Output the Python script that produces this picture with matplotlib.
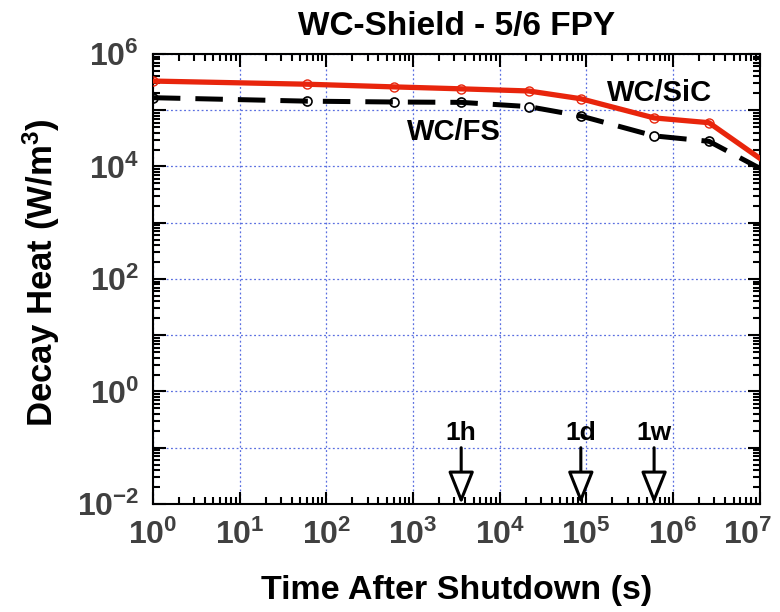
import math
import matplotlib
matplotlib.use("Agg")
import matplotlib.pyplot as plt
from matplotlib.ticker import LogLocator, NullFormatter
from matplotlib.transforms import ScaledTranslation

FONT = 'Liberation Sans'
plt.rcParams['font.family'] = [FONT, 'DejaVu Sans']
plt.rcParams['font.weight'] = 'bold'
plt.rcParams['mathtext.fontset'] = 'custom'
plt.rcParams['mathtext.rm'] = FONT + ':bold'
plt.rcParams['mathtext.bf'] = FONT + ':bold'
plt.rcParams['mathtext.it'] = FONT + ':bold'
plt.rcParams['mathtext.default'] = 'bf'

# time after shutdown (s)
t = [1, 60, 600, 3600, 21600, 86400, 604800, 2.6e6, 1e7]
# decay heat (W/m^3)
wc_sic = [3.3e5, 2.9e5, 2.6e5, 2.4e5, 2.2e5, 1.6e5, 7.3e4, 6.0e4, 1.4e4]
wc_fs = [1.67e5, 1.45e5, 1.4e5, 1.38e5, 1.16e5, 7.9e4, 3.5e4, 2.8e4, 9.3e3]

xticks = [1, 1e1, 1e2, 1e3, 1e4, 1e5, 1e6, 1e7]
yticks = [1e-2, 1e-1, 1, 1e1, 1e2, 1e3, 1e4, 1e5, 1e6]

marks = ["1h", "1d", "1w"]
mark_t = [3600, 86400, 604800]

fig = plt.figure(figsize=(7.8, 6.12), dpi=100)
ax = fig.add_axes([0.196, 0.1765, 0.778, 0.7353])

ax.plot(t, wc_fs, color='black', lw=3.6, dashes=(5.5, 3), zorder=3)
ax.plot(t[:-1], wc_fs[:-1], 'o', mfc='none', mec='black', ms=6.5, mew=1.2, zorder=4)
ax.plot(t, wc_sic, color='#E8250C', lw=3.8, zorder=5)
ax.plot(t[:-1], wc_sic[:-1], 'o', mfc='none', mec='#E8250C', ms=6.5, mew=1.0, zorder=6)

ax.set_xscale('log')
ax.set_yscale('log')
ax.set_xlim(1, 1e7)
ax.set_ylim(1e-2, 1e6)

ax.set_xticks(xticks)
ax.set_xticklabels([r'$10^{%d}$' % round(math.log10(v)) for v in xticks])
ax.set_yticks(yticks)
ax.set_yticklabels([r'$10^{%d}$' % round(math.log10(v)) if round(math.log10(v)) % 2 == 0 else ''
                    for v in yticks])
ax.xaxis.set_minor_locator(LogLocator(base=10, subs=range(2, 10), numticks=20))
ax.yaxis.set_minor_locator(LogLocator(base=10, subs=range(2, 10), numticks=20))
ax.xaxis.set_minor_formatter(NullFormatter())
ax.yaxis.set_minor_formatter(NullFormatter())

ax.tick_params(which='both', direction='in', top=True, right=True, width=1.5)
ax.tick_params(which='major', length=9, labelsize=23, labelcolor='#404040')
ax.tick_params(axis='x', which='major', pad=11)
ax.tick_params(axis='y', which='major', pad=10)
ax.tick_params(which='minor', length=5)
for s in ax.spines.values():
    s.set_linewidth(1.5)

# keep the last x label inside the figure
last = ax.get_xticklabels()[-1]
last.set_transform(last.get_transform() + ScaledTranslation(-12 / 100, 0, fig.dpi_scale_trans))

ax.grid(True, which='major', color='#5a6fe0', linestyle=(0, (1.5, 2)), lw=0.9)

ax.set_title('WC-Shield - 5/6 FPY', fontsize=24, fontweight='bold', pad=14)
ax.set_xlabel('Time After Shutdown (s)', fontsize=24.5, fontweight='bold')
ax.set_ylabel(r'Decay Heat (W/m$^{3}$)', fontsize=25, fontweight='bold')
ax.xaxis.set_label_coords(0.5, -0.158)
ax.yaxis.set_label_coords(-0.150, 0.515)

ax.text(7.0e5, 2.0e5, 'WC/SiC', fontsize=21, fontweight='bold', ha='center', va='center')
ax.text(3.0e3, 4.1e4, 'WC/FS', fontsize=21, fontweight='bold', ha='center', va='center')

for lab, x in zip(marks, mark_t):
    ax.annotate('', xy=(x, 1e-2), xytext=(x, 0.1),
                arrowprops=dict(arrowstyle='-|>,head_length=1.0,head_width=0.4',
                                mutation_scale=20, fc='white', ec='black', lw=2.2,
                                shrinkA=0, shrinkB=0), zorder=7)
    ax.text(x, 0.18, lab, fontsize=19, fontweight='bold', ha='center', va='center')

fig.savefig('out.png', dpi=100)
